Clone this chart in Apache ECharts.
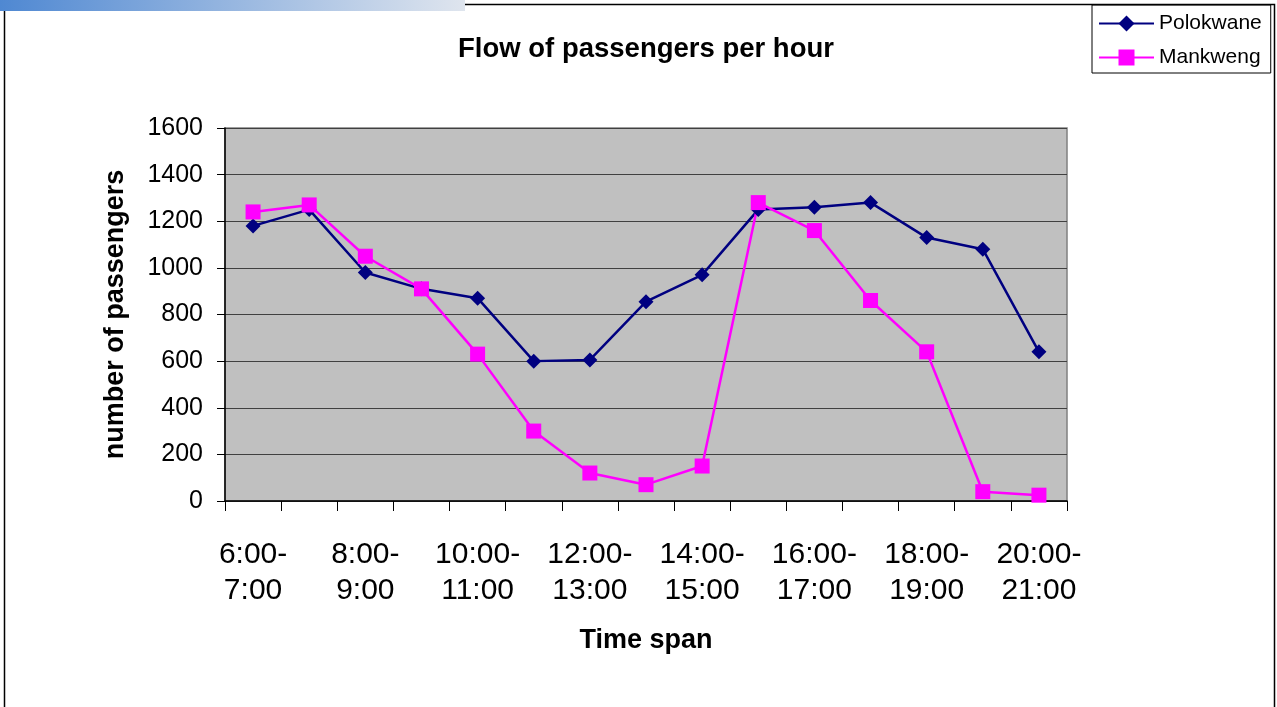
<!DOCTYPE html>
<html>
<head>
<meta charset="utf-8">
<script src="https://cdn.jsdelivr.net/npm/echarts@6/dist/echarts.min.js"></script>
<style>html,body{margin:0;padding:0;background:#fff}#c{width:1277px;height:707px}</style>
</head>
<body>
<div id="c"></div>
<script>
var categories = ['6:00-\n7:00','7:00-\n8:00','8:00-\n9:00','9:00-\n10:00','10:00-\n11:00','11:00-\n12:00','12:00-\n13:00','13:00-\n14:00','14:00-\n15:00','15:00-\n16:00','16:00-\n17:00','17:00-\n18:00','18:00-\n19:00','19:00-\n20:00','20:00-\n21:00'];
var polokwane = [1180,1250,980,910,870,600,605,855,970,1250,1260,1280,1130,1080,640];
var mankweng = [1240,1270,1050,910,630,300,120,70,150,1280,1160,860,640,40,25];
var seriesNames = ['Polokwane','Mankweng'];
var titleText = 'Flow of passengers per hour';
var yName = 'number of passengers';
var xName = 'Time span';

var chart = echarts.init(document.getElementById('c'));
var font = 'Liberation Sans, Arial, sans-serif';
chart.setOption({
  animation: false,
  backgroundColor: '#fff',
  textStyle: {fontFamily: font},
  title: {text: titleText, left: 641, top: 30, textAlign: 'center',
    textStyle: {fontSize: 27.5, fontWeight: 'bold', color: '#000', fontFamily: font}},
  legend: {
    orient: 'vertical', left: 1092, top: 5, width: 179,
    padding: [8, 9, 5, 6], itemGap: 13,
    borderColor: '#000', borderWidth: 1,
    itemWidth: 55, itemHeight: 20,
    textStyle: {fontSize: 21, color: '#000', fontFamily: font},
    data: seriesNames
  },
  graphic: [
    {type: 'rect', shape: {x: 4.5, y: 4.5, width: 1270, height: 720}, style: {fill: 'none', stroke: '#000', lineWidth: 1.5}, z: 0},
    {type: 'rect', shape: {x: 0, y: 0, width: 465, height: 11},
      style: {fill: new echarts.graphic.LinearGradient(0, 0, 1, 0, [{offset: 0, color: '#4f88d2'}, {offset: 1, color: '#dfe5ee'}])}, z: 10}
  ],
  grid: {left: 225, right: 210, top: 128, bottom: 206, show: true, backgroundColor: '#c0c0c0', borderColor: '#808080', borderWidth: 1.5},
  xAxis: {
    type: 'category', data: categories, boundaryGap: true,
    name: xName, nameLocation: 'middle', nameGap: 126,
    nameTextStyle: {fontSize: 27, fontWeight: 'bold', color: '#000', fontFamily: font},
    axisLine: {lineStyle: {color: '#000', width: 1.5}},
    axisTick: {show: true, length: 10, interval: 0, lineStyle: {color: '#000'}},
    axisLabel: {interval: 1, fontSize: 30, color: '#000', lineHeight: 36, margin: 36, fontFamily: font}
  },
  yAxis: {
    type: 'value', min: 0, max: 1600, interval: 200,
    name: yName, nameLocation: 'middle', nameGap: 96,
    nameTextStyle: {fontSize: 27, fontWeight: 'bold', color: '#000', fontFamily: font},
    axisLine: {show: true, lineStyle: {color: '#000', width: 1.5}},
    axisTick: {show: true, length: 8, lineStyle: {color: '#000'}},
    axisLabel: {fontSize: 25, color: '#000', margin: 22, fontFamily: font, formatter: function (v) { return String(v); }},
    splitLine: {lineStyle: {color: '#404040', width: 1.2}}
  },
  series: [
    {name: seriesNames[0], type: 'line', data: polokwane, symbol: 'diamond', symbolSize: 15,
      lineStyle: {color: '#000080', width: 2.5}, itemStyle: {color: '#000080'}},
    {name: seriesNames[1], type: 'line', data: mankweng, symbol: 'rect', symbolSize: 15,
      lineStyle: {color: '#ff00ff', width: 2.5}, itemStyle: {color: '#ff00ff'}}
  ]
});
</script>
</body>
</html>
